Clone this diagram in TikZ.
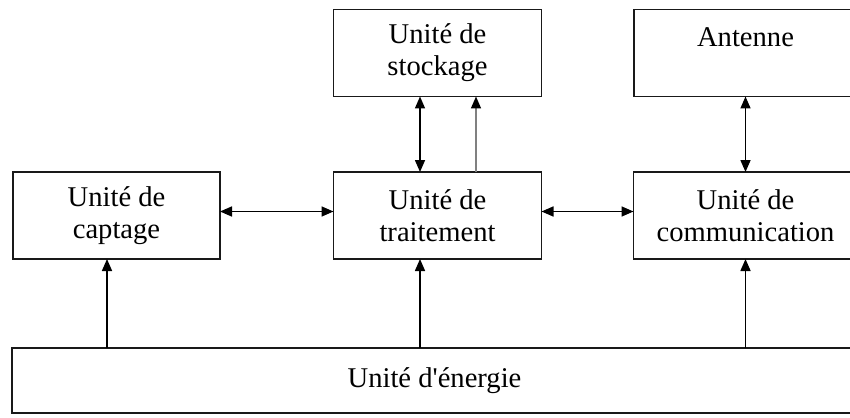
\documentclass[tikz,border=0pt]{standalone}
\usepackage{fontspec}
\setmainfont{Liberation Serif}
\usetikzlibrary{arrows.meta}
\begin{document}
\begin{tikzpicture}[x=1pt,y=-1pt,
  box/.style={draw=black!90, line width=1.8pt, fill=white, inner sep=0pt, outer sep=0pt,
    minimum height=87pt, align=center, font=\fontsize{28.6}{32}\selectfont},
  arr/.style={line width=1.6pt, -{Triangle[length=12pt,width=10pt]}},
  dbl/.style={line width=1.6pt, {Triangle[length=12pt,width=10pt]}-{Triangle[length=12pt,width=10pt]}},
]
\useasboundingbox (0,0) rectangle (850,417);
\clip (0,0) rectangle (850,417);
\node[box, minimum width=208pt] (stock) at (437.5,53) {Unité de\\stockage};
\node[box, minimum width=223pt, text depth=32pt] (ant) at (745.5,53) {Antenne};
\node[box, minimum width=207pt] (capt) at (116.5,215.5) {Unité de\\captage};
\node[box, minimum width=208pt] (trait) at (437.5,215.5) {Unité de\\traitement};
\node[box, minimum width=224pt] (comm) at (745.5,215.5) {Unité de\\communication};
\node[box, minimum width=845pt, minimum height=65pt] (ener) at (434.5,380.5) {Unité d\textquotesingle énergie};
% storage links
\draw[dbl] ([xshift=-17.5pt]stock.south) -- ([xshift=-17.5pt]trait.north);
\draw[arr, draw=gray, -{Triangle[length=12pt,width=10pt,fill=black,color=black]}] ([xshift=38.5pt]trait.north) -- ([xshift=38.5pt]stock.south);
% antenna
\draw[dbl] (ant.south) -- (comm.north);
% horizontal links
\draw[dbl] ([yshift=4pt]capt.east) -- ([yshift=4pt]trait.west);
\draw[dbl] ([yshift=4pt]trait.east) -- ([yshift=4pt]comm.west);
% energy
\coordinate (c1) at ([xshift=-9.5pt]capt.south);
\coordinate (c2) at ([xshift=-17.5pt]trait.south);
\draw[arr] (c1 |- ener.north) -- (c1);
\draw[arr] (c2 |- ener.north) -- (c2);
\draw[arr] (comm.south |- ener.north) -- (comm.south);
\end{tikzpicture}
\end{document}
